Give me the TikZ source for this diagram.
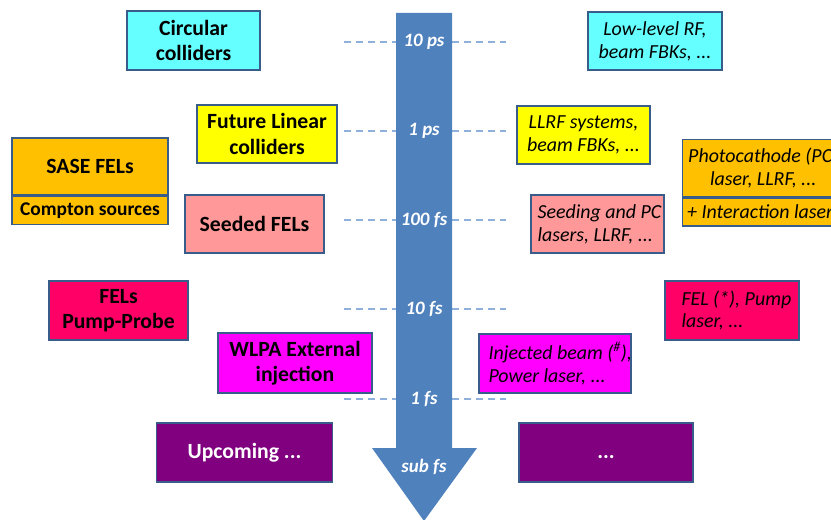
\documentclass[tikz,border=0pt]{standalone}
\usepackage{fontspec}
\setmainfont{Carlito}
\definecolor{cCyan}{HTML}{66FFFF}
\definecolor{cYellow}{HTML}{FFFF00}
\definecolor{cOrange}{HTML}{FFC000}
\definecolor{cSalmon}{HTML}{FF9999}
\definecolor{cRose}{HTML}{FF0066}
\definecolor{cMagenta}{HTML}{FF00FF}
\definecolor{cPurple}{HTML}{800080}
\definecolor{cBorder}{HTML}{385D8A}
\definecolor{cArrow}{HTML}{4F81BD}
\definecolor{cDash}{HTML}{8EB0DA}
\tikzset{
  box/.style={draw=cBorder, line width=1.4bp, inner sep=0pt, align=center},
  bigtxt/.style={font=\fontsize{21.8}{25.5}\selectfont\bfseries},
  smalltxt/.style={font=\fontsize{19.5}{22}\selectfont\bfseries},
  itxt/.style={font=\fontsize{20}{23}\selectfont\itshape},
  ltxt/.style={itxt, inner sep=0pt, anchor=west, align=left},
  ticklbl/.style={font=\fontsize{19}{22}\selectfont\bfseries\itshape, text=white},
  tickline/.style={draw=cDash, line width=1.3bp, dash pattern=on 7bp off 5bp},
}
\begin{document}
\begin{tikzpicture}[x=1bp,y=-1bp]
\clip (0,0) rectangle (831,520);
\fill[white] (0,0) rectangle (831,520);
% dashed tick lines
\foreach \yy in {42,131,220,309,399}{
  \draw[tickline] (344,\yy) -- (506,\yy);
}
% arrow
\fill[cArrow] (396,13) -- (452,13) -- (452,448) -- (477,448) -- (424,521) -- (372,448) -- (396,448) -- cycle;
\node[ticklbl] (t1) at (424,42) {10 ps};
\node[ticklbl] (t2) at (424,131) {1 ps};
\node[ticklbl] (t3) at (424,220) {100 fs};
\node[ticklbl] (t4) at (424,309) {10 fs};
\node[ticklbl] (t5) at (424,399) {1 fs};
\node[ticklbl] (t6) at (424,467) {sub fs};
% left boxes
\node[box, bigtxt, fill=cCyan, minimum width=133bp, minimum height=59bp] (circ) at (193.5,40.5) {Circular\\colliders};
\node[box, bigtxt, fill=cYellow, minimum width=140bp, minimum height=58bp] (flc) at (267,134) {Future Linear\\colliders};
\node[box, bigtxt, fill=cOrange, minimum width=156bp, minimum height=57bp] (sase) at (90,166.5) {SASE FELs};
\node[box, smalltxt, fill=cOrange, minimum width=156bp, minimum height=28bp, anchor=north] (compton) at (sase.south) {Compton sources};
\node[box, bigtxt, fill=cSalmon, minimum width=139bp, minimum height=58bp] (seeded) at (254.5,224) {Seeded FELs};
\node[box, bigtxt, fill=cRose, minimum width=139bp, minimum height=59bp] (pump) at (118.5,310.5) {FELs\\Pump-Probe};
\node[box, bigtxt, fill=cMagenta, minimum width=154bp, minimum height=60bp] (wlpa) at (295,363) {WLPA External\\injection};
\node[box, bigtxt, fill=cPurple, text=white, minimum width=176bp, minimum height=59bp] (upc) at (244.5,452.5) {Upcoming ...};
% right boxes
\node[box, itxt, fill=cCyan, minimum width=134bp, minimum height=58bp] (llrf1) at (655,41) {Low-level RF,\\beam FBKs, ...};
\node[box, itxt, fill=cYellow, minimum width=133bp, minimum height=58bp] (llrf2) at (583.5,135) {LLRF systems,\\beam FBKs, ...};
\node[box, fill=cOrange, minimum width=160bp, minimum height=57bp, anchor=north west] (pc) at (682,139) {};
\node[ltxt, align=center] (pctxt) at ([xshift=6bp]pc.west) {Photocathode (PC)\\laser, LLRF, ...};
\node[box, fill=cOrange, minimum width=160bp, minimum height=28bp, anchor=north west] (inter) at (pc.south west) {};
\node[ltxt] (intertxt) at ([xshift=5bp]inter.west) {+ Interaction laser};
\node[box, fill=cSalmon, minimum width=133bp, minimum height=58bp] (seedpc) at (597.5,224) {};
\node[ltxt] (seedpctxt) at ([xshift=7bp]seedpc.west) {Seeding and PC\\lasers, LLRF, ...};
\node[box, fill=cRose, minimum width=134bp, minimum height=59bp] (felpump) at (732,310.5) {};
\node[ltxt] (felpumptxt) at ([xshift=17bp]felpump.west) {FEL (*), Pump\\laser, ...};
\node[box, fill=cMagenta, minimum width=152bp, minimum height=59bp] (inj) at (555,363.5) {};
\node[ltxt] (injtxt) at ([xshift=10bp]inj.west) {Injected beam (\textsuperscript{\#}),\\Power laser, ...};
\node[box, bigtxt, fill=cPurple, text=white, minimum width=174bp, minimum height=59bp] (dots) at (606,452.5) {\vphantom{Upcoming}...};
\end{tikzpicture}
\end{document}
